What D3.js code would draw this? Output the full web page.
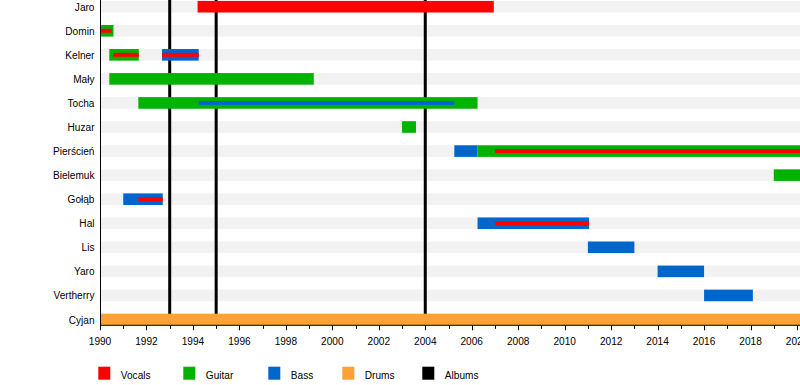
<!DOCTYPE html>
<html>
<head>
<meta charset="utf-8">
<script src="https://cdn.jsdelivr.net/npm/d3@7"></script>
<style>
  html, body { margin: 0; padding: 0; background: #fff; }
  svg { display: block; }
  text { font-family: "Liberation Sans", Arial, sans-serif; fill: #000; }
</style>
</head>
<body>
<svg id="chart" width="800" height="385"></svg>
<script>
// ---------- data ----------
const members = ["Jaro","Domin","Kelner","Mały","Tocha","Huzar","Pierścień","Bielemuk","Gołąb","Hal","Lis","Yaro","Vertherry","Cyjan"];
const roles = ["Vocals","Guitar","Bass","Drums","Albums"];
const roleColors = ["#ff0000","#00b300","#0066cc","#ffa133","#000000"];
const END = 2021.5; // still active (beyond visible edge)

// main (full-width) bars: [member, role, from, to]
const mainBars = [
  ["Jaro","Vocals",1994.2,2006.95],
  ["Domin","Guitar",1990,1990.58],
  ["Kelner","Guitar",1990.4,1991.67],
  ["Kelner","Bass",1992.67,1994.25],
  ["Mały","Guitar",1990.4,1999.2],
  ["Tocha","Guitar",1991.65,2006.25],
  ["Huzar","Guitar",2003,2003.6],
  ["Pierścień","Bass",2005.25,2006.25],
  ["Pierścień","Guitar",2006.25,END],
  ["Bielemuk","Guitar",2019,END],
  ["Gołąb","Bass",1991,1992.7],
  ["Hal","Bass",2006.25,2011.05],
  ["Lis","Bass",2011,2013],
  ["Yaro","Bass",2014,2016],
  ["Vertherry","Bass",2016,2018.1],
  ["Cyjan","Drums",1990,END]
];
// secondary (thin) bars: [member, role, from, to]
const innerBars = [
  ["Domin","Vocals",1990,1990.5],
  ["Kelner","Vocals",1990.57,1991.67],
  ["Kelner","Vocals",1992.67,1994.25],
  ["Tocha","Bass",1994.25,2005.25],
  ["Pierścień","Vocals",2007,END],
  ["Gołąb","Vocals",1991.65,1992.7],
  ["Hal","Vocals",2007,2011.05]
];
const albums = [1993, 1995, 2004];
const yearStart = 1990, yearEnd = 2020;
const tickYears = d3.range(1990, 2021, 1);
const labelYears = d3.range(1990, 2021, 2);

// ---------- layout ----------
const svg = d3.select("#chart");
const W = 800;
const x = d3.scaleLinear().domain([yearStart, yearEnd]).range([100, 797]);
const y = d3.scalePoint().domain(members).range([6.7, 319.5]);
const color = d3.scaleOrdinal().domain(roles).range(roleColors);
const barH = 11.6, innerH = 4;
const axisY = 325.3;
const sx = 0.92; // horizontal text compression

// background bands
svg.append("g").selectAll("rect").data(members).join("rect")
  .attr("x", x(yearStart) + 1).attr("width", W - x(yearStart))
  .attr("y", d => y(d) - barH / 2).attr("height", barH)
  .attr("fill", "#f2f2f2");

// album lines (behind bars)
svg.append("g").selectAll("line").data(albums).join("line")
  .attr("x1", d => x(d)).attr("x2", d => x(d))
  .attr("y1", 0).attr("y2", axisY)
  .attr("stroke", color("Albums")).attr("stroke-width", 3);

// main bars
svg.append("g").selectAll("rect").data(mainBars).join("rect")
  .attr("x", d => x(d[2])).attr("width", d => x(d[3]) - x(d[2]))
  .attr("y", d => y(d[0]) - barH / 2).attr("height", barH)
  .attr("fill", d => color(d[1]));

// inner bars
svg.append("g").selectAll("rect").data(innerBars).join("rect")
  .attr("x", d => x(d[2])).attr("width", d => x(d[3]) - x(d[2]))
  .attr("y", d => y(d[0]) - innerH / 2).attr("height", innerH)
  .attr("fill", d => color(d[1]));

// member names
svg.append("g").selectAll("text").data(members).join("text")
  .attr("transform", d => `translate(94.5,${y(d) + 4}) scale(${sx},1)`)
  .attr("text-anchor", "end").attr("font-size", 11)
  .text(d => d);

// axes lines
svg.append("line").attr("x1", 100.5).attr("x2", 100.5).attr("y1", 0).attr("y2", axisY)
  .attr("stroke", "#000").attr("stroke-width", 1);
svg.append("line").attr("x1", 100).attr("x2", W).attr("y1", axisY).attr("y2", axisY)
  .attr("stroke", "#000").attr("stroke-width", 1);

// ticks
svg.append("g").selectAll("line").data(tickYears).join("line")
  .attr("x1", d => Math.round(x(d)) + 0.5).attr("x2", d => Math.round(x(d)) + 0.5)
  .attr("y1", axisY).attr("y2", d => axisY + (d % 2 === 0 ? 5 : 3.5))
  .attr("stroke", "#000").attr("stroke-width", 1);

svg.append("g").selectAll("text").data(labelYears).join("text")
  .attr("transform", d => `translate(${x(d)},345) scale(${sx},1)`)
  .attr("text-anchor", "middle").attr("font-size", 11)
  .text(d => d);

// legend
const legendX = [98.3, 183.3, 268.3, 342.3, 422.3];
const lg = svg.append("g").selectAll("g").data(roles).join("g")
  .attr("transform", (d, i) => `translate(${legendX[i]},366.7)`);
lg.append("rect").attr("width", 12).attr("height", 13).attr("fill", d => color(d));
lg.append("text")
  .attr("transform", `translate(22.5,12.3) scale(${sx},1)`)
  .attr("font-size", 11).text(d => d);
</script>
</body>
</html>
